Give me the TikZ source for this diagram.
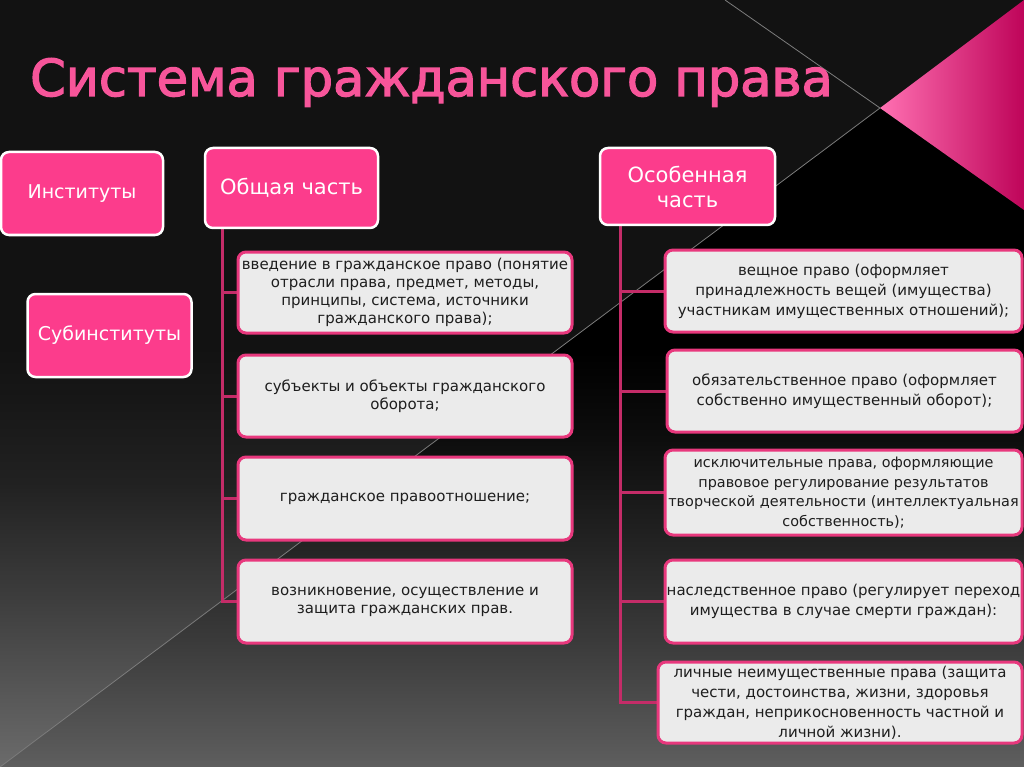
\documentclass[tikz,border=0pt]{standalone}
\usepackage{fontspec}
\setmainfont{DejaVu Sans}
\definecolor{pinkA}{HTML}{FF70B2}
\definecolor{pinkB}{HTML}{F7087F}
\definecolor{pinkC}{HTML}{BE0459}
\definecolor{titlepink}{HTML}{F7559A}
\definecolor{boxpink}{HTML}{FC3C8C}
\definecolor{boxgrey}{HTML}{EBEBEB}
\definecolor{boxedge}{HTML}{E8387D}
\definecolor{textdark}{HTML}{1E1E1E}
\definecolor{connpink}{HTML}{C42C68}
\definecolor{thinline}{HTML}{7C7C7C}
\pgfdeclareverticalshading{bgshade}{100bp}{%
  color(0bp)=(black!58); color(25bp)=(black!58); color(36bp)=(black!76);
  color(43.5bp)=(black!87); color(49bp)=(black!91); color(52.5bp)=(black!93);
  color(75bp)=(black!93); color(100bp)=(black!93)}
\pgfdeclareverticalshading{rgshade}{100bp}{%
  color(0bp)=(black!63); color(25bp)=(black!63); color(34.5bp)=(black!77);
  color(42.5bp)=(black!87); color(50bp)=(black!95); color(56.5bp)=(black);
  color(75bp)=(black); color(100bp)=(black)}
\pgfdeclarelayer{back}
\pgfdeclarelayer{mid}
\pgfsetlayers{back,mid,main}
\newcommand{\strokedtext}[1]{\special{pdf:literal direct 2 Tr 1.3 w}#1\special{pdf:literal direct 0 Tr}}
\tikzset{
  pinkbox/.style={draw=white, line width=2.5pt, fill=boxpink, rounded corners=8pt,
    text=white, font=\fontsize{19}{24}\selectfont, align=center, inner sep=0pt},
  bigpink/.style={pinkbox, font=\fontsize{21}{25}\selectfont},
  greybox/.style={draw=boxedge, line width=3pt, fill=boxgrey, rounded corners=8pt,
    text=textdark, font=\fontsize{15}{18}\selectfont, align=center, inner sep=0pt},
  rightbox/.style={greybox, font=\fontsize{15}{20}\selectfont},
  conn/.style={draw=connpink, line width=3pt},
  thin/.style={draw=thinline, line width=0.8pt},
}
\begin{document}
\begin{tikzpicture}[x=1pt,y=-1pt]
\useasboundingbox (0,0) rectangle (1024,767);
\begin{pgfonlayer}{back}
  \shade[shading=bgshade] (0,0) rectangle (1024,767);
  \shade[shading=rgshade]
    (0,767) -- (880,108) -- (1024,210) -- (1024,767) -- cycle;
  \shade[left color=pinkA, middle color=pinkB, right color=pinkC]
    (880,108) -- (1024,0) -- (1024,210) -- cycle;
  \draw[thin] (0,767) -- (880,108) -- (725,0);
\end{pgfonlayer}

\node[anchor=base west, text=titlepink, font=\fontsize{51}{60}\selectfont, inner sep=0pt]
  (title) at (30,96) {\strokedtext{Система гражданского права}};

\node[pinkbox, minimum width=162pt, minimum height=83pt] (inst) at (82,193.5) {Институты};
\node[pinkbox, minimum width=164pt, minimum height=83pt] (subinst) at (109.5,335.5) {Субинституты};
\node[bigpink, minimum width=173pt, minimum height=80pt] (gen) at (291.5,188) {Общая часть};
\node[bigpink, minimum width=175pt, minimum height=77pt] (spec) at (687.5,186.5) {Особенная\\часть};

\node[greybox, minimum width=334pt, minimum height=81pt] (L1) at (405,292.5)
  {введение в гражданское право (понятие\\отрасли права, предмет, методы,\\принципы, система, источники\\гражданского права);};
\node[greybox, minimum width=334pt, minimum height=82pt] (L2) at (405,396)
  {субъекты и объекты гражданского\\оборота;};
\node[greybox, minimum width=334pt, minimum height=83pt] (L3) at (405,498.5)
  {гражданское правоотношение;};
\node[greybox, minimum width=334pt, minimum height=83pt] (L4) at (405,601.5)
  {возникновение, осуществление и\\защита гражданских прав.};

\node[rightbox, minimum width=357pt, minimum height=82pt] (R1) at (843.5,291)
  {вещное право (оформляет\\принадлежность вещей (имущества)\\участникам имущественных отношений);};
\node[rightbox, minimum width=355pt, minimum height=82pt] (R2) at (844.5,391)
  {обязательственное право (оформляет\\собственно имущественный оборот);};
\node[rightbox, font=\fontsize{14.4}{19.5}\selectfont, minimum width=357pt, minimum height=85pt] (R3) at (843.5,492.5)
  {исключительные права, оформляющие\\правовое регулирование результатов\\творческой деятельности (интеллектуальная\\собственность);};
\node[rightbox, minimum width=357pt, minimum height=83pt] (R4) at (843.5,601.5)
  {наследственное право (регулирует переход\\имущества в случае смерти граждан):};
\node[rightbox, minimum width=364pt, minimum height=81pt] (R5) at (840,702.5)
  {личные неимущественные права (защита\\чести, достоинства, жизни, здоровья\\граждан, неприкосновенность частной и\\личной жизни).};

\coordinate (lt) at (222,0);
\coordinate (rt) at (620,0);
\begin{pgfonlayer}{mid}
  \draw[conn] (gen.south -| lt) |- (L4.west);
  \draw[conn] (L1.west -| lt) -- (L1.west);
  \draw[conn] (L2.west -| lt) -- (L2.west);
  \draw[conn] (L3.west -| lt) -- (L3.west);
  \draw[conn] (spec.south -| rt) |- (R5.west);
  \draw[conn] (R1.west -| rt) -- (R1.west);
  \draw[conn] (R2.west -| rt) -- (R2.west);
  \draw[conn] (R3.west -| rt) -- (R3.west);
  \draw[conn] (R4.west -| rt) -- (R4.west);
\end{pgfonlayer}
\end{tikzpicture}
\end{document}
